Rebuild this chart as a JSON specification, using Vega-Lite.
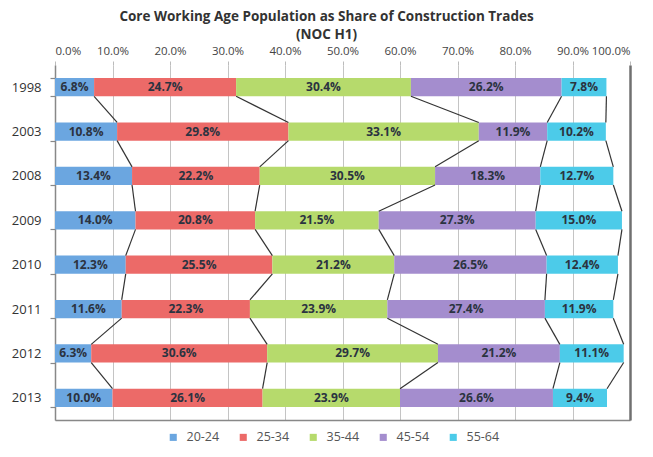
{
  "$schema": "https://vega.github.io/schema/vega-lite/v6.json",
  "width": 575,
  "height": 355,
  "autosize": {"type": "none"},
  "padding": {"left": 55, "top": 65, "right": 23, "bottom": 37},
  "background": "white",
  "config": {
    "font": "Open Sans",
    "view": {"stroke": null}
  },
  "title": {
    "text": ["Core Working Age Population as Share of Construction Trades", "(NOC H1)"],
    "font": "Open Sans",
    "fontSize": 13.5,
    "fontWeight": "bold",
    "color": "#333333",
    "lineHeight": 18,
    "anchor": "middle",
    "dx": -16,
    "offset": 4
  },
  "data": {
    "values": [
      {"year": "1998", "age": "20-24", "value": 0.068},
      {"year": "1998", "age": "25-34", "value": 0.247},
      {"year": "1998", "age": "35-44", "value": 0.304},
      {"year": "1998", "age": "45-54", "value": 0.262},
      {"year": "1998", "age": "55-64", "value": 0.078},
      {"year": "2003", "age": "20-24", "value": 0.108},
      {"year": "2003", "age": "25-34", "value": 0.298},
      {"year": "2003", "age": "35-44", "value": 0.331},
      {"year": "2003", "age": "45-54", "value": 0.119},
      {"year": "2003", "age": "55-64", "value": 0.102},
      {"year": "2008", "age": "20-24", "value": 0.134},
      {"year": "2008", "age": "25-34", "value": 0.222},
      {"year": "2008", "age": "35-44", "value": 0.305},
      {"year": "2008", "age": "45-54", "value": 0.183},
      {"year": "2008", "age": "55-64", "value": 0.127},
      {"year": "2009", "age": "20-24", "value": 0.140},
      {"year": "2009", "age": "25-34", "value": 0.208},
      {"year": "2009", "age": "35-44", "value": 0.215},
      {"year": "2009", "age": "45-54", "value": 0.273},
      {"year": "2009", "age": "55-64", "value": 0.150},
      {"year": "2010", "age": "20-24", "value": 0.123},
      {"year": "2010", "age": "25-34", "value": 0.255},
      {"year": "2010", "age": "35-44", "value": 0.212},
      {"year": "2010", "age": "45-54", "value": 0.265},
      {"year": "2010", "age": "55-64", "value": 0.124},
      {"year": "2011", "age": "20-24", "value": 0.116},
      {"year": "2011", "age": "25-34", "value": 0.223},
      {"year": "2011", "age": "35-44", "value": 0.239},
      {"year": "2011", "age": "45-54", "value": 0.274},
      {"year": "2011", "age": "55-64", "value": 0.119},
      {"year": "2012", "age": "20-24", "value": 0.063},
      {"year": "2012", "age": "25-34", "value": 0.306},
      {"year": "2012", "age": "35-44", "value": 0.297},
      {"year": "2012", "age": "45-54", "value": 0.212},
      {"year": "2012", "age": "55-64", "value": 0.111},
      {"year": "2013", "age": "20-24", "value": 0.100},
      {"year": "2013", "age": "25-34", "value": 0.261},
      {"year": "2013", "age": "35-44", "value": 0.239},
      {"year": "2013", "age": "45-54", "value": 0.266},
      {"year": "2013", "age": "55-64", "value": 0.094}
    ]
  },
  "transform": [
    {"stack": "value", "groupby": ["year"], "sort": [{"field": "age"}], "as": ["x0", "x1"]}
  ],
  "resolve": {"axis": {"x": "independent", "y": "independent"}},
  "layer": [
    {
      "mark": {"type": "bar"},
      "encoding": {
        "y": {
          "field": "year", "type": "nominal",
          "scale": {"paddingInner": 0.59, "paddingOuter": 0.295},
          "axis": {
            "title": null, "orient": "left",
            "labelFont": "Open Sans", "labelFontSize": 13, "labelColor": "#333333",
            "labelPadding": 9,
            "tickBand": "extent", "tickSize": 5, "tickColor": "#888888", "tickWidth": 1.2,
            "domainColor": "#888888", "domainWidth": 1.5
          }
        },
        "x": {
          "field": "x0", "type": "quantitative",
          "scale": {"domain": [0, 1], "nice": false},
          "axis": {
            "title": null, "orient": "top", "format": ".1%",
            "values": [0, 0.1, 0.2, 0.3, 0.4, 0.5, 0.6, 0.7, 0.8, 0.9, 1.0],
            "labelFont": "Open Sans", "labelFontSize": 11.5, "labelColor": "#444444",
            "labelPadding": 5, "labelOverlap": false,
            "domain": false, "ticks": true, "tickSize": 4, "tickColor": "#bbbbbb",
            "grid": true, "gridColor": "#c4c4c4", "gridWidth": 1
          }
        },
        "x2": {"field": "x1"},
        "color": {
          "field": "age", "type": "nominal", "title": null,
          "scale": {
            "domain": ["20-24", "25-34", "35-44", "45-54", "55-64"],
            "range": ["#6ba6e0", "#ec6a68", "#b6da6c", "#a48dce", "#4ccbe9"]
          },
          "legend": {
            "orient": "none", "direction": "horizontal",
            "legendX": 112, "legendY": 366,
            "symbolType": "square", "symbolSize": 50, "symbolStrokeWidth": 0,
            "labelFont": "Open Sans", "labelFontSize": 12.5, "labelColor": "#555555",
            "columnPadding": 17, "labelOffset": 7
          }
        }
      }
    },
    {
      "transform": [
        {"window": [{"op": "lead", "field": "x1", "as": "nx1"}, {"op": "lead", "field": "year", "as": "nyear"}],
         "groupby": ["age"], "sort": [{"field": "year", "order": "ascending"}], "frame": [null, null]},
        {"filter": "datum.nyear != null"}
      ],
      "mark": {"type": "rule", "color": "#333333", "strokeWidth": 1.2},
      "encoding": {
        "x": {
          "field": "x1", "type": "quantitative",
          "axis": {"title": null, "orient": "bottom", "labels": false, "ticks": false, "grid": false,
                   "domainColor": "#888888", "domainWidth": 1.5}
        },
        "x2": {"field": "nx1"},
        "y": {
          "field": "year", "type": "nominal", "bandPosition": 1,
          "axis": {"title": null, "orient": "right", "labels": false, "ticks": false, "grid": false,
                   "domainColor": "#707070", "domainWidth": 2.5}
        },
        "y2": {"field": "nyear", "bandPosition": 0}
      }
    },
    {
      "transform": [{"calculate": "(datum.x0 + datum.x1) / 2", "as": "mid"}],
      "mark": {"type": "text", "font": "Open Sans", "fontSize": 12, "fontWeight": "bold", "color": "#2b3340", "baseline": "middle"},
      "encoding": {
        "x": {"field": "mid", "type": "quantitative", "axis": null},
        "y": {"field": "year", "type": "nominal", "axis": null},
        "text": {"field": "value", "type": "quantitative", "format": ".1%"}
      }
    }
  ]
}
